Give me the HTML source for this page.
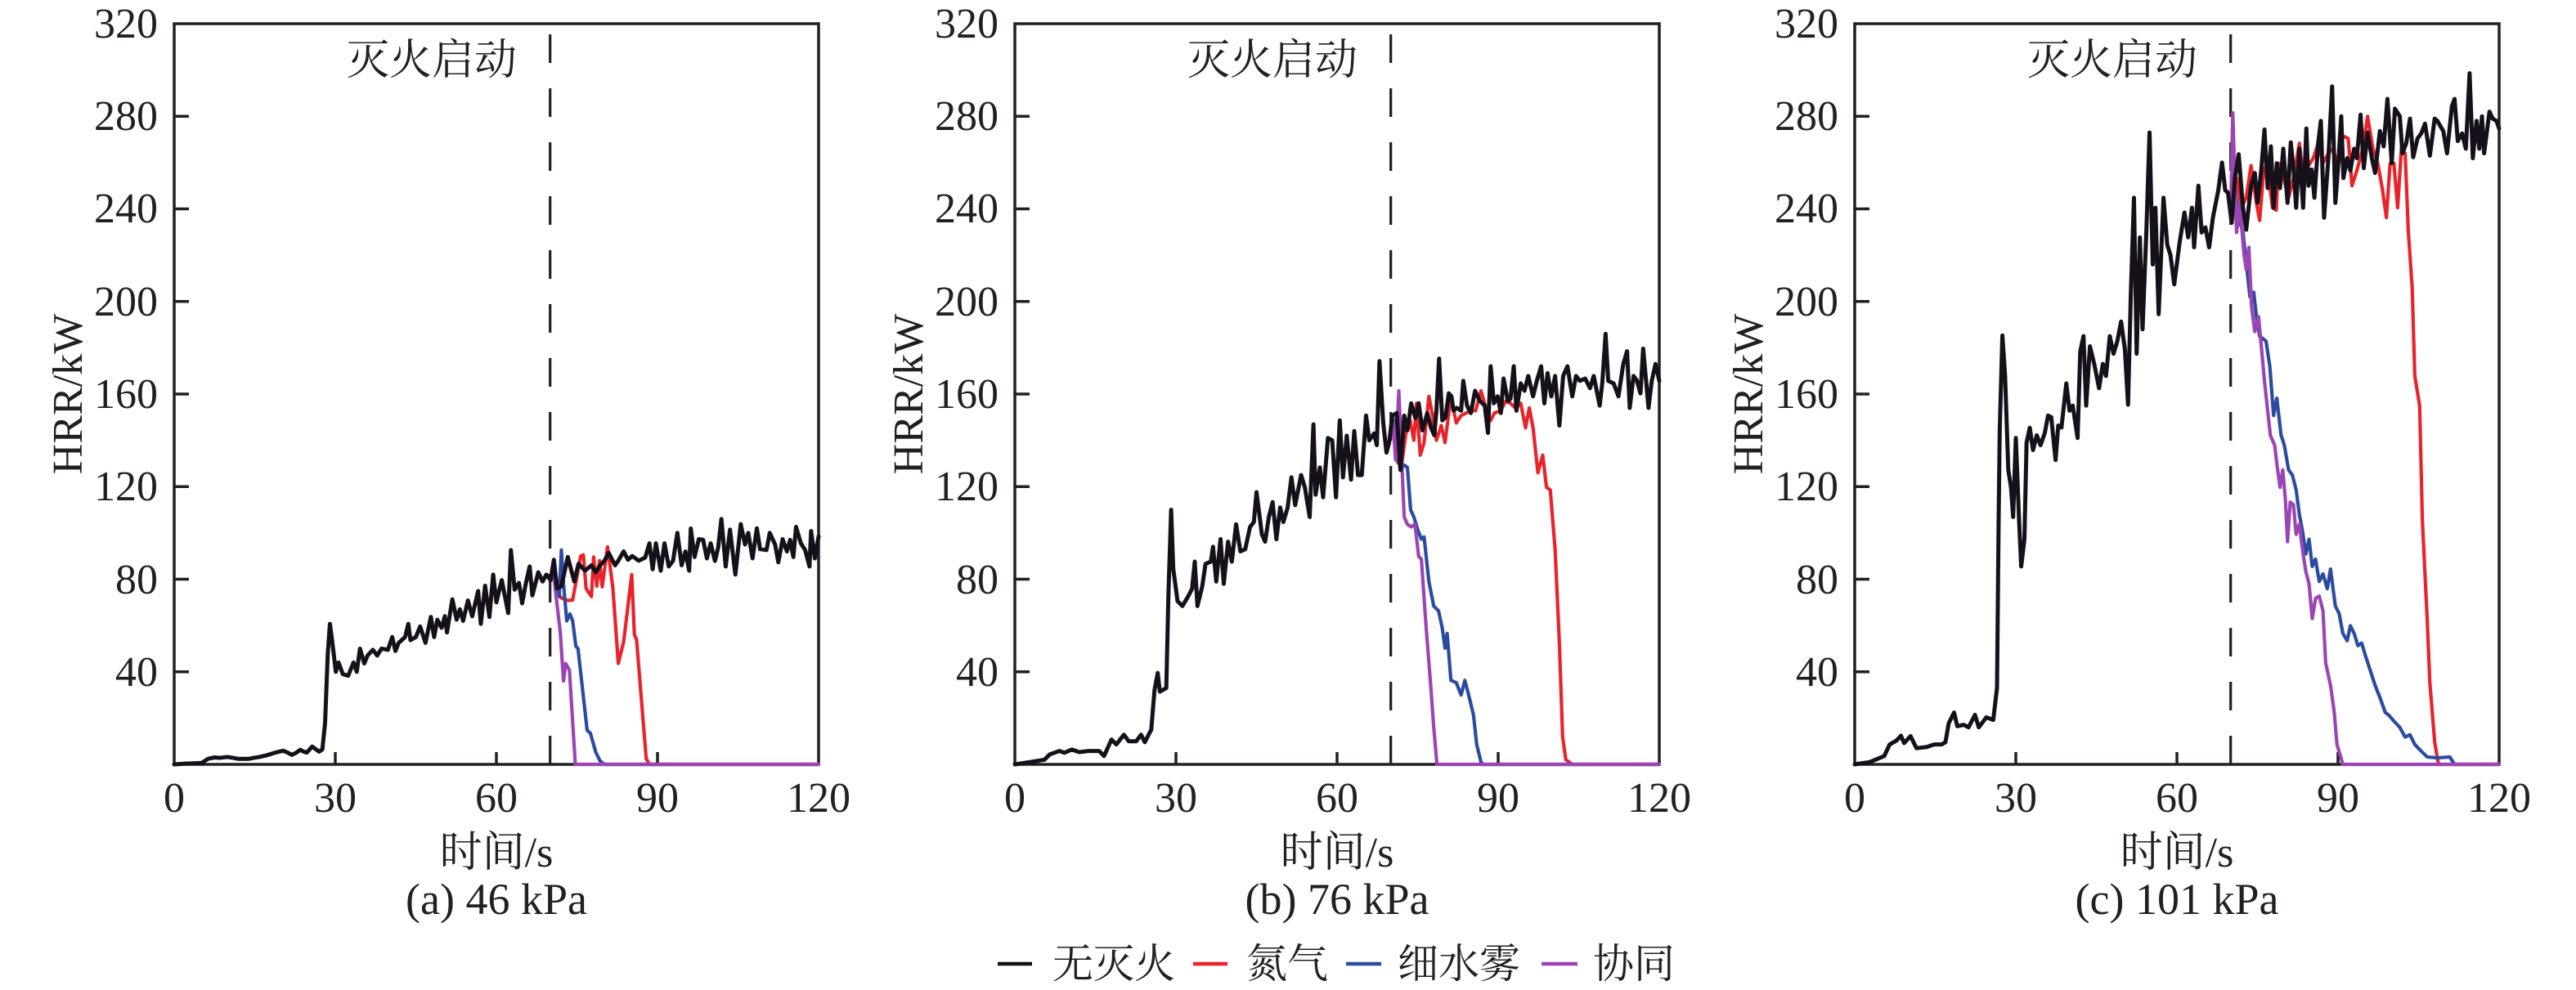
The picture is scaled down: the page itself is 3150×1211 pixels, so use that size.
<!DOCTYPE html>
<html><head><meta charset="utf-8"><style>
html,body{margin:0;padding:0;background:#fff;}
svg{display:block;}
text{font-family:"Liberation Serif","Noto Serif CJK SC",serif;fill:#231f20;}
.cjk{font-family:"Liberation Serif","Noto Serif CJK SC",serif;}
.d{fill:none;vector-effect:non-scaling-stroke;stroke-linejoin:round;stroke-linecap:round;}
.k{stroke:#15101a;stroke-width:5;}
.r{stroke:#e8242a;stroke-width:4.2;}
.b{stroke:#2b4ba0;stroke-width:4.2;}
.p{stroke:#9b45b5;stroke-width:4.2;}
.ax{fill:none;stroke:#231f20;stroke-width:3.5;}
.tk{stroke:#231f20;stroke-width:3.5;}
.dash{stroke:#231f20;stroke-width:3.2;stroke-dasharray:35 31;}
</style></head><body>
<svg width="3150" height="1211" viewBox="0 0 3150 1211" xmlns="http://www.w3.org/2000/svg">
<rect width="3150" height="1211" fill="#fff"/>
<defs>
<g id="frame">
<line class="dash" x1="459.7" y1="935" x2="459.7" y2="29"/>
<rect class="ax" x="0" y="29" width="788" height="906"/>
<g class="tk">
<line x1="0" y1="821.75" x2="18" y2="821.75"/><line x1="0" y1="708.5" x2="18" y2="708.5"/><line x1="0" y1="595.25" x2="18" y2="595.25"/><line x1="0" y1="482" x2="18" y2="482"/><line x1="0" y1="368.75" x2="18" y2="368.75"/><line x1="0" y1="255.5" x2="18" y2="255.5"/><line x1="0" y1="142.25" x2="18" y2="142.25"/>
<line x1="197" y1="935" x2="197" y2="920"/><line x1="394" y1="935" x2="394" y2="920"/><line x1="591" y1="935" x2="591" y2="920"/>
</g>
<g font-size="52" text-anchor="end">
<text x="-20" y="46">320</text><text x="-20" y="159">280</text><text x="-20" y="272">240</text><text x="-20" y="386">200</text><text x="-20" y="499">160</text><text x="-20" y="612">120</text><text x="-20" y="726">80</text><text x="-20" y="839">40</text>
</g>
<g font-size="52" text-anchor="middle">
<text x="0" y="993">0</text><text x="197" y="993">30</text><text x="394" y="993">60</text><text x="591" y="993">90</text><text x="788" y="993">120</text>
</g>
<text font-size="52" text-anchor="middle" transform="translate(-113,482) rotate(-90)">HRR/kW</text>
<text class="cjk" font-size="52" text-anchor="middle" x="315" y="91">灭火启动</text>
<text class="cjk" font-size="52" text-anchor="middle" x="394" y="1060">时间/s</text>
</g>
</defs>

<!-- Panel a -->
<g transform="translate(213,0)">
<use href="#frame"/>
<text font-size="54" text-anchor="middle" x="394" y="1118">(a) 46 kPa</text>
<g transform="translate(0,935) scale(6.56667,-2.83125)">
<polyline class="d r" points="70.6,84 70.9,78 72,72 73.3,70.8 74.2,71 75.7,90 76.2,90.5 76.7,76 77.7,72.5 78.1,89.6 78.7,77 79.2,88 79.7,76.7 80.7,94 81.7,76 82.7,43.6 83.7,53 85.2,82 85.7,56 86.1,54 87.9,2.4 88.5,0 120,0"/>
<polyline class="d b" points="70.6,84 71.2,78 71.7,72.5 72.1,92.6 72.5,78 73.1,62 73.7,65 74.2,62 74.8,51 75.2,50 76.9,14.7 77.5,13.5 78.5,5.3 79.3,1.5 80.1,0 120,0"/>
<polyline class="d p" points="70.6,84 70.9,77 71.9,57 72.5,36 72.9,43.6 73.6,40.7 74.7,0 120,0"/>
<polyline class="d k" points="0,0 2,0.3 4,0.5 5.1,0.6 6.3,2.4 7.5,3 8.5,2.8 9.9,3.2 11,2.8 11.9,2.4 13.9,2.4 15,2.9 15.9,3.2 17,3.8 17.9,4.4 19,5.2 20.3,5.9 21.2,5 21.9,4.1 22.7,5 23.5,6.3 24.1,5.5 24.7,5.1 25.2,6.4 25.7,7.7 26.4,6.5 27,5.5 27.6,6.5 28.1,18 28.6,47.8 29,60.7 29.4,53.7 30.1,40 30.6,44 31.4,39 32.4,38.3 33.4,44 34,40 34.6,50 35.4,43.6 36,47 37,49.5 37.8,47 38.6,50 39.8,49.5 40.6,55 41.2,49 41.8,52.5 43,55 43.6,60.7 44,53.7 45,55 45.8,59.6 46.8,52.5 47.8,63.7 48.4,55 49,62.5 49.8,59 50.4,64 50.8,57 51.8,71.3 52.6,62.5 53.2,67 53.8,62 54.7,70.8 55.5,64 56.6,74.9 57.1,60.7 57.9,77.2 58.7,63.7 59.4,82 60,70 61,79.6 62.2,65.4 62.7,92.6 63.4,75.5 64.2,78.4 64.8,69.6 65.4,77.2 66.2,85.5 66.7,73 67.8,83 68.6,79 69.3,82 70.1,79.6 70.7,88.4 71.3,76 72.1,77 73.3,89.6 74.5,79 75.3,86.7 76.5,83.7 77.7,86 78.5,83 79.3,86 80.1,87.9 80.9,91.4 82.1,86 82.7,88 83.7,92 84.5,88.4 85.3,90 86.5,88 87.7,89.3 88.5,95.5 89.1,84.3 89.7,95.5 90.6,83.7 91.3,95.5 92.1,85.5 92.9,88 93.7,100 94.5,86 95.2,92 95.9,83.7 96.2,101.9 96.9,89.6 97.7,97.3 98.5,97 99.2,89 99.9,95.5 100.7,87.9 101.3,93.7 101.9,106 102.7,85.5 103.5,101.4 104.5,82 105.5,103.8 106.3,95 106.9,100 107.7,89 108.5,102 109.1,93 110.3,92.6 110.9,100 111.9,95 112.5,87.3 113.3,97.3 114.1,92 114.7,97 115.3,89.6 115.8,102.6 116.7,95.5 117.5,92.6 118.3,85.5 118.6,100.8 119.3,89 120,98.5"/>
</g>
</g>

<!-- Panel b -->
<g transform="translate(1241,0)">
<use href="#frame"/>
<text font-size="54" text-anchor="middle" x="394" y="1118">(b) 76 kPa</text>
<g transform="translate(0,935) scale(6.56667,-2.83125)">
<polyline class="d r" points="70.6,148.6 71.3,130.4 72,129.3 72.9,144.3 73.6,148.6 74.3,140 74.8,156 75.5,133.6 76.2,139 77.1,159 77.7,151.8 78.5,140 79.4,146.4 80.1,139 81.2,159 82.2,147.5 83.1,150.7 84,151.8 84.9,152.8 85.8,152.8 86.8,161.4 87.7,154 88.6,148.6 89.3,151.8 90.5,152.8 91.4,157 92.3,156 93.2,154 94.2,156 95.1,145.4 95.8,154 96.5,145.4 97.4,126 98.3,133.6 99,119.7 99.7,118.6 100.6,93 101.4,52.4 102,11.8 102.6,2 103.8,0 120,0"/>
<polyline class="d b" points="70.6,148.6 71.1,135.8 71.8,127.2 72.5,129.3 73.1,128.3 73.7,110 74.3,106.9 75,101.5 75.7,97.3 76.2,98.3 77.1,79 78,68.4 78.9,66.3 79.6,58.8 80.1,50.2 80.5,56.6 81.2,36.3 82.2,35.3 83.1,30 83.8,36.3 84.5,30 85.4,21.4 86,8.6 86.8,1 87.2,0 120,0"/>
<polyline class="d p" points="70.4,148.6 70.9,131.5 71.5,161.4 72,133.6 72.5,106.9 73.1,103.7 73.8,102.6 74.5,103.7 75.2,89.8 75.7,88.7 76.6,58.8 77.4,35.3 78,16 78.6,0 120,0"/>
<polyline class="d k" points="0,0 2.8,1 5.5,2 6.5,4.3 8.3,5.8 9.2,5 10.6,6.4 12,5.3 13.8,5.8 15.7,5.8 16.6,3.6 18,10.7 18.9,8.6 20.3,12.8 21.2,10 22.6,10 23.5,12.8 24.2,9.6 25.4,15 26,32 26.6,39.5 27,31.4 28.2,33 28.6,73.7 29.1,110 29.5,84.4 30.3,70.5 31.2,68.4 32.3,72.7 33,75.9 33.5,87.6 34,68.4 34.9,77 35.5,86.6 36.5,87.6 36.9,94 37.5,79 38.3,97.3 38.9,78 39.7,96.2 40.4,87.6 41.2,103.7 42,92 42.9,93 43.8,102.6 44.5,104.7 45,117.6 46,99.4 46.6,96.2 47.3,106.9 48,113.3 48.7,97.3 49.4,111 50,104.7 50.8,111 51.5,124 52.2,112 53.3,125 54,119.7 54.9,106.9 55.6,146.9 56,116.5 56.8,128.3 57.4,115.4 58.3,141 59.1,140 59.8,115.4 60.5,148.6 61.1,124 61.8,142 62.6,123 63.2,144 63.9,125 64.6,125 65.4,150.7 66,140 66.9,143 67.4,137.9 67.9,174.2 68.6,147.5 69.2,134.7 69.7,139 70.3,150.7 71.1,151.8 71.8,127.2 72.5,150.7 73.1,144.3 73.8,156 74.6,149.6 75.2,156 75.9,144.3 76.8,151.8 77.5,145.4 78.1,142.2 78.5,152.8 79,175.3 79.6,148.6 80.2,150 80.8,160.3 81.3,159 81.7,152.8 82.3,154 83.1,152.8 83.5,165.7 84.2,155 84.9,151.8 85.7,161.4 86.6,157 87.5,155 88.1,143.2 88.6,172 89.2,156 89.9,159 90.5,151.8 91,166.7 91.8,157 92.3,158 92.9,172 93.4,152.8 94.2,164.6 94.9,161.4 95.6,167.8 96.5,159 97.2,165.7 98,172 98.6,156 99.2,169 99.9,159 100.6,167.8 101.4,146.4 102.1,167.8 102.9,172 103.8,159 104.5,167.8 105.2,165.7 106.2,166.7 107.1,162.5 107.8,167.8 108.9,155 109.4,165 110,186 110.5,165.7 111.5,164.6 112.4,159 113.3,173 114,178.5 114.5,154 115.2,167.8 115.8,166 116.5,160.3 117,179.6 118,154 118.6,165.7 119.3,173 120,165.7"/>
</g>
</g>

<!-- Panel c -->
<g transform="translate(2268,0)">
<use href="#frame"/>
<text font-size="54" text-anchor="middle" x="394" y="1118">(c) 101 kPa</text>
<g transform="translate(0,935) scale(6.56667,-2.83125)">
<polyline class="d r" points="70.2,234 71.1,253.3 72,240.5 72.9,244.8 73.8,258.7 74.8,242.6 75.4,235 76.2,257.6 77.1,253.3 77.8,240.5 78.5,239.4 78.9,259.7 79.8,254 80.8,244.8 81.7,253.3 82.8,268.3 83.5,254.4 84.5,258.7 85.4,261.9 86.3,268.3 87.2,259.7 88.2,264 89.1,266 90,257.6 90.9,271.5 91.9,270.4 92.6,250 93.5,256.5 94.6,266 95.5,280 96.5,266 97.4,259.7 98.3,248 99,236.2 99.7,259.7 100.4,259.7 101.1,240.5 101.8,266 102.5,264 103.1,229.8 103.8,206.3 104.3,167.8 105.2,155 105.7,105.8 106.6,63 107.1,35.3 108,9.6 108.7,0 120,0"/>
<polyline class="d b" points="70.2,234 70.8,249 71.5,236.2 72.3,229.8 72.9,217 73.6,202 74.3,204 74.8,193.5 75.4,185 76,184 76.6,182.8 77.3,172 78,150.7 78.6,158.2 79.4,142.2 80,137.9 80.8,127.2 81.5,125 82.2,118.6 82.8,108 83.4,100.5 84,90.9 84.6,97.3 85.2,85.5 85.8,88.7 86.5,79 87.2,82.3 88,75.9 88.6,84.4 89.5,68.4 90.2,65.2 90.9,56.6 91.7,53.4 92.3,59.9 93,56.6 93.7,51.3 94.4,52.4 95.1,47 96,40.6 96.9,34.2 97.8,28.9 98.8,22.4 99.4,21.4 100.6,18.2 101.5,16 102.5,11.8 103.4,12.8 104.3,8.6 105.2,6.4 106.6,3.2 108.5,2.8 110.8,3.2 111.7,0 120,0"/>
<polyline class="d p" points="70,236 70.4,281.5 71.1,229.8 71.7,241.6 72.5,220.2 72.9,213.8 73.4,223.4 73.9,197.7 74.5,187 75.2,193.5 75.8,178.5 76.3,165.7 76.9,152.8 77.4,142.2 78.2,137.9 78.7,128.3 79.2,119.7 79.7,127.2 80.2,114.4 80.6,96.2 81.1,113.3 81.7,112.2 82.2,99.4 82.8,103.7 83.5,90.9 84,83.4 84.6,78 85.2,63 85.8,71.6 86.5,72.7 87.2,66.3 87.7,43.8 88.6,34.2 89.3,22.4 89.8,8.6 90.5,3.2 90.9,0 120,0"/>
<polyline class="d k" points="0,0 2.8,1 5.5,3.6 6.5,8.6 7.8,10.3 8.6,12.4 9.2,9.2 10.4,12.2 11.5,7 13.4,7.5 14.8,8.6 16.2,8.6 16.9,9.6 17.5,17.7 18.5,22.4 19.1,16.5 20.3,17.1 21.2,16 22.4,21.4 23.1,16 24.5,20.3 25.8,19.2 26.5,33.1 26.8,105.8 27,144.3 27.5,185.3 28,167.8 28.6,127.2 29.1,119.7 29.5,106.9 30,141 30.6,105.8 31,85.5 31.6,97.3 32,139 32.6,145.4 33.2,135.8 33.9,142.2 34.6,137.9 35.4,143.2 36,150.7 36.6,150 37.4,131.5 37.9,146.4 38.5,145.5 39.4,164.6 40,152.8 40.6,155 41.5,141 42,178.5 42.6,185 43.1,155 43.8,180.6 44.6,173 45.5,162.5 46.2,173 46.8,167.8 47.5,185 48.2,177.4 48.9,182.8 49.6,191.3 50.3,179.6 50.9,155.4 51.4,202 52,244.8 52.5,177.4 53.1,227.7 53.6,188 54.3,229.8 54.9,273 55.5,216 56,240.5 56.6,194.5 57.5,244.8 58.2,224.5 58.8,220 59.5,207.4 60.5,225.5 61.4,238.4 62.1,227.7 62.8,240.5 63.2,223.4 64,250 64.6,229.8 65.3,232 66,223.4 66.7,236.2 67.7,248 68.4,260 69,248 69.5,247 70.2,234 70.8,253.3 71.5,263.6 72.3,240.5 72.9,231 73.8,250 74.5,255.5 75,242.6 75.7,256.5 76.3,274.3 76.9,249 77.5,267 78,240.5 78.6,259.7 79.2,249 79.8,266 80.6,242.6 81.2,268.7 81.7,257.6 82.2,240.5 82.8,266 83.5,240.5 84.1,274.7 84.5,250 85.1,257 85.6,244.8 86.3,268.3 86.8,278 87.4,236.2 88.2,261.9 88.9,292.9 89.5,242.6 90,257.6 90.6,280 91,253.3 91.7,261.9 92.3,256.5 93,266 93.5,261.9 94.2,280.7 94.8,257.6 95.5,273 96.3,261.9 96.9,255.5 97.8,273.6 98.5,267 99.2,287.5 100,259.7 100.6,283.3 101.5,280 102,264 102.7,268.3 103.4,279 104,262.3 104.8,270.4 105.5,272.6 106.2,276.8 107.1,263 108,279 108.5,278 109.6,273.6 110.3,264 111.2,284.3 111.7,287.5 112.3,269.3 113.1,272.6 113.8,266 114.5,298.6 115.1,261.9 115.8,278 116.3,266 116.8,280 117.2,264 118.2,282 118.8,279 119.5,278 120,274.7"/>
</g>
</g>

<!-- Legend -->
<g stroke-width="4.5">
<line x1="1220" y1="1179" x2="1262" y2="1179" stroke="#15101a"/>
<line x1="1459" y1="1179" x2="1501" y2="1179" stroke="#e8242a"/>
<line x1="1646" y1="1179" x2="1689" y2="1179" stroke="#2b4ba0"/>
<line x1="1885" y1="1179" x2="1929" y2="1179" stroke="#9b45b5"/>
</g>
<g class="cjk" font-size="50">
<text class="cjk" x="1287" y="1196">无灭火</text>
<text class="cjk" x="1524" y="1196">氮气</text>
<text class="cjk" x="1709" y="1196">细水雾</text>
<text class="cjk" x="1948" y="1196">协同</text>
</g>
</svg>
</body></html>
